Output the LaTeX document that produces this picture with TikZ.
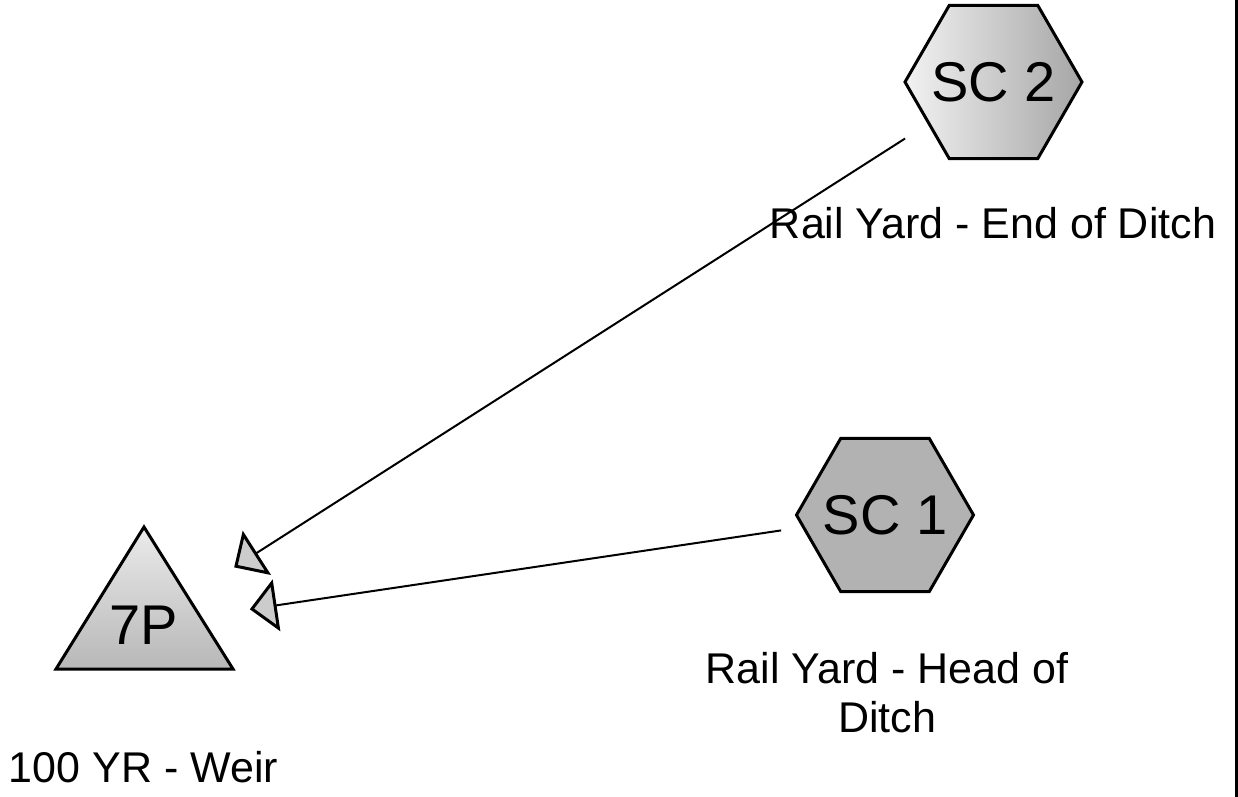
\documentclass[tikz,border=0pt]{standalone}
\usepackage{fontspec}
\setmainfont{Liberation Sans}
\usetikzlibrary{arrows.meta,shapes.geometric,positioning}

\tikzset{
  site/.style={regular polygon, regular polygon sides=6, minimum size=88.5pt,
    inner sep=0pt, draw, line width=1.5pt, font=\fontsize{28}{32}\selectfont},
  sitetext/.style={inner sep=0pt, font=\fontsize{28}{32}\selectfont},
  lbl/.style={font=\fontsize{21.5}{24.5}\selectfont, align=center, inner sep=0pt},
  flow/.style={line width=1pt,
    -{Triangle[length=13.5pt,width=26pt,fill=black!20,line width=1.5pt]},
    shorten <=52.5pt, shorten >=53.5pt},
}

\begin{document}
\begin{tikzpicture}[x=0.5pt,y=-0.5pt]
\useasboundingbox (0,0) rectangle (1238,797);
% sources
\node[site, left color=black!5, right color=black!35] (sc2) at (993.5,82) {\makebox[0pt]{SC 2}};
\node[site, fill=black!30] (sc1) at (885,515) {\makebox[0pt]{SC 1}};
% weir
\draw[line width=1.5pt, top color=black!8, bottom color=black!28] (144,527) -- (56,669) -- (233,669) -- cycle;
\node[sitetext] (p7) at (144,625) {7P};
% labels
\node[lbl, anchor=base] (sc2lbl) at (993,238) {Rail Yard - End of Ditch};
\node[lbl, anchor=base] (sc1lbl) at (887,732) {Rail Yard - Head of\\Ditch};
\node[lbl, anchor=base] (p7lbl) at (143.5,782) {100 YR - Weir};
% flows
\draw[flow] (sc2.center) -- (p7.center);
\draw[flow] (sc1.center) -- (p7.center);
% page edge
\draw[line width=1.5pt] (1236,0) -- (1236,797);
\end{tikzpicture}
\end{document}
